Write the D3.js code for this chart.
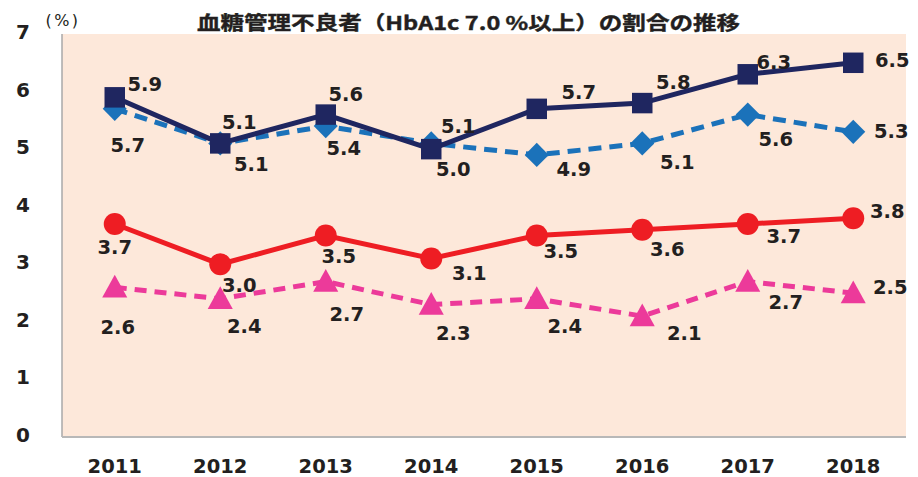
<!DOCTYPE html>
<meta charset="utf-8">
<style>
body { margin: 0; background: #fff; }
text { font-family: "DejaVu Sans", Verdana, sans-serif; fill: #231f20; }
.title { font-family: "Noto Sans CJK JP", sans-serif; font-weight: bold; }
</style>
<svg id="chart" width="918" height="477"></svg>
<script src="https://cdn.jsdelivr.net/npm/d3@7"></script>
<script>

// data
var years = ["2011", "2012", "2013", "2014", "2015", "2016", "2017", "2018"];
var navyVals = [5.9, 5.1, 5.6, 5.0, 5.7, 5.8, 6.3, 6.5];
var blueVals = [5.7, 5.1, 5.4, 5.1, 4.9, 5.1, 5.6, 5.3];
var redVals  = [3.7, 3.0, 3.5, 3.1, 3.5, 3.6, 3.7, 3.8];
var pinkVals = [2.6, 2.4, 2.7, 2.3, 2.4, 2.1, 2.7, 2.5];
var yTicks = [0, 1, 2, 3, 4, 5, 6, 7];
var titleText = "血糖管理不良者（HbA1c 7.0 %以上）の割合の推移";

// where each value label sits relative to its marker (layout only)
var navyLab = [[30,-13],[19,-21],[20,-20],[22,20],[42,-16],[31,-21],[26,-12],[39,-2]];
var blueLab = [[13,37],[31,21],[18,22],[27,-17],[37,15],[35,19],[28,25],[38,0]];
var redLab  = [[0,24],[19,21],[13,21],[38,15],[24,16],[25,20],[36,13],[34,-7]];
var pinkLab = [[3,40],[24,28],[21,33],[22,29],[28,28],[42,17],[38,21],[37,-6]];

var svg = d3.select("#chart");
var plot = {left: 62, right: 906, top: 34, bottom: 437};

var x = d3.scaleBand().domain(years).range([plot.left, plot.right]);
var y = d3.scaleLinear().domain([0, 7]).range([plot.bottom, plot.top]);
var cx = d => x(d) + x.bandwidth() / 2;

// background of plot area
svg.append("rect")
    .attr("x", plot.left).attr("y", plot.top)
    .attr("width", plot.right - plot.left).attr("height", plot.bottom - plot.top)
    .attr("fill", "#fde8da");

// axis lines
svg.append("line").attr("x1", plot.left).attr("x2", plot.left)
    .attr("y1", plot.top).attr("y2", plot.bottom)
    .attr("stroke", "#a8a8a8").attr("stroke-width", 1.5);
svg.append("line").attr("x1", plot.left).attr("x2", plot.right)
    .attr("y1", plot.bottom).attr("y2", plot.bottom)
    .attr("stroke", "#b8b8b8").attr("stroke-width", 2);

// y tick labels
svg.selectAll(".ytick").data(yTicks).enter().append("text")
    .attr("x", 23).attr("y", d => y(d) - 2)
    .attr("text-anchor", "middle").attr("dominant-baseline", "central")
    .attr("font-size", 20).attr("font-weight", "bold")
    .text(d => d);

// x tick labels
svg.selectAll(".xtick").data(years).enter().append("text")
    .attr("x", d => cx(d)).attr("y", 466)
    .attr("text-anchor", "middle").attr("dominant-baseline", "central")
    .attr("font-size", 19.5).attr("font-weight", "bold")
    .text(d => d);

// unit and title
svg.append("text").attr("x", 63).attr("y", 20)
    .attr("text-anchor", "middle").attr("dominant-baseline", "central")
    .attr("font-size", 16).attr("letter-spacing", 2.5)
    .text("(%)");

svg.append("text").attr("class", "title")
    .attr("x", 197).attr("y", 21)
    .attr("dominant-baseline", "central")
    .attr("font-size", 19)
    .attr("stroke", "#231f20").attr("stroke-width", 0.4)
    .attr("textLength", 543).attr("lengthAdjust", "spacingAndGlyphs")
    .text(titleText);

var line = d3.line().x((d, i) => cx(years[i])).y(d => y(d));

function series(vals, color, dash, symbol, size) {
    var g = svg.append("g");
    g.append("path").datum(vals)
        .attr("d", line).attr("fill", "none")
        .attr("stroke", color).attr("stroke-width", 5)
        .attr("stroke-dasharray", dash);
    g.selectAll("path.mark").data(vals).enter().append("path")
        .attr("class", "mark")
        .attr("d", d3.symbol().type(symbol).size(size))
        .attr("transform", (d, i) => "translate(" + cx(years[i]) + "," + y(d) + ")")
        .attr("fill", color);
    return g;
}

function labels(vals, labs) {
    svg.selectAll(null).data(vals).enter().append("text")
        .attr("x", (d, i) => cx(years[i]) + labs[i][0])
        .attr("y", (d, i) => y(d) + labs[i][1])
        .attr("text-anchor", "middle").attr("dominant-baseline", "central")
        .attr("font-size", 19.5).attr("font-weight", "bold")
        .text(d => d.toFixed(1));
}

var diamond = {draw: function (ctx, size) {
    var r = Math.sqrt(size / 2);
    ctx.moveTo(0, -r); ctx.lineTo(r, 0); ctx.lineTo(0, r); ctx.lineTo(-r, 0); ctx.closePath();
}};
var triangle = {draw: function (ctx, size) {
    var h = Math.sqrt(size), w = h * 1.1;
    ctx.moveTo(0, -h * 0.55); ctx.lineTo(w / 2, h * 0.45); ctx.lineTo(-w / 2, h * 0.45); ctx.closePath();
}};

series(pinkVals, "#ec3a9a", "12,8", triangle, 520);
series(redVals, "#ee1d23", null, d3.symbolCircle, 380);
series(blueVals, "#1b72ba", "13,8", diamond, 290);
series(navyVals, "#1f2660", null, d3.symbolSquare, 420);

labels(pinkVals, pinkLab);
labels(redVals, redLab);
labels(blueVals, blueLab);
labels(navyVals, navyLab);

</script>
